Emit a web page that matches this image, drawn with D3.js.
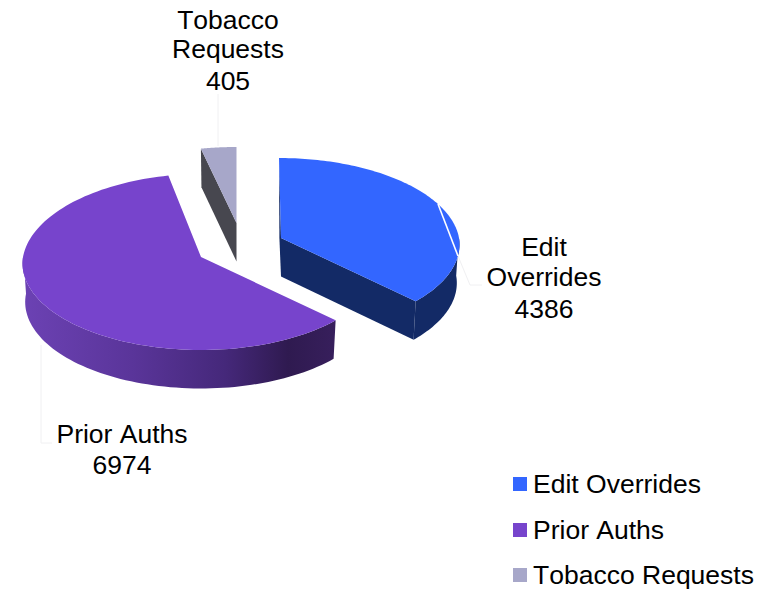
<!DOCTYPE html>
<html><head><meta charset="utf-8">
<script src="https://cdn.jsdelivr.net/npm/d3@7"></script>
<style>html,body{margin:0;padding:0;background:#fff}svg{display:block}text{font-family:"Liberation Sans",Arial,sans-serif;fill:#000;font-kerning:none}</style>
</head><body><div id="c"></div>
<script>
const categories = ["Edit Overrides", "Prior Auths", "Tobacco Requests"];
const values = [4386, 6974, 405];
const topColors = ["#3366ff", "#7744cc", "#a7a7c9"];
const sideColors = ["#132a66", "url(#sideGrad)", "#47474f"];
const labelLines = [["Edit", "Overrides", "4386"], ["Prior Auths", "6974"], ["Tobacco", "Requests", "405"]];

// layout of each exploded slice (not data)
const W = 773, H = 589;
const sliceLayout = [
  {cx: 281, cy: 238, backScale: 1, lean: -2},
  {cx: 201, cy: 257, backScale: 1.04, lean: 3},
  {cx: 236.5, cy: 223, backScale: 0.95, lean: 0}
];
const RX = 178, RY = 86, K = 0.075, DEPTH = 38.5, BOTTOM_X = 0.985;
const FONT = 26.5;
const labelLayout = [
  {x: 544, y: [256, 286, 318]},
  {x: 122, y: [443, 474]},
  {x: 228, y: [29, 58, 90]}
];
const leaders = [
  [[458, 256], [470, 285], [482, 285]],
  [[41, 345], [41, 443], [52, 443]],
  [[218, 146], [218, 94]]
];
const legendY = [484, 530, 575];

const svg = d3.select("#c").append("svg").attr("width", W).attr("height", H);
const grad = svg.append("defs").append("linearGradient").attr("id", "sideGrad")
  .attr("gradientUnits", "userSpaceOnUse").attr("x1", 22).attr("x2", 335).attr("y1", 0).attr("y2", 0);
[[0, "#6c42b4"], [0.35, "#5a359a"], [0.65, "#45287a"], [0.85, "#2f1a50"], [1, "#371f5c"]].forEach(s =>
  grad.append("stop").attr("offset", s[0]).attr("stop-color", s[1]));

const arcs = d3.pie().sort(null).value(d => d).startAngle(0).endAngle(2 * Math.PI)(values);

function project(a, L) {
  const c = Math.cos(a), f = 1 / (1 + K * c);
  return [
    L.cx + RX * Math.sin(a) * f + L.lean * Math.max(0, c),
    L.cy - RY * (c > 0 ? L.backScale : 1) * c * f
  ];
}
const down = (p, L) => [L.cx + (p[0] - L.cx) * BOTTOM_X, p[1] + DEPTH];
const sample = (a0, a1, L) => d3.range(0, 121).map(i => project(a0 + (a1 - a0) * i / 120, L));
const line = d3.line();

// faint leader lines
svg.append("g").selectAll("path").data(leaders).join("path")
  .attr("d", d => line(d)).attr("fill", "none").attr("stroke", "#f0f0f2").attr("stroke-width", 1);

// draw order: back slice first
[2, 1, 0].forEach(i => {
  const d = arcs[i], L = sliceLayout[i];
  const g = svg.append("g");
  const apex = [L.cx, L.cy];
  const a0 = d.startAngle, a1 = d.endAngle;
  const pts = sample(a0, a1, L);

  // outer wall: only the front-facing part of the rim
  const rim = pts.filter((p, j) => {
    const a = a0 + (a1 - a0) * j / 120;
    return a > Math.PI / 2 - 0.01 && a < 3 * Math.PI / 2 + 0.05;
  });
  if (rim.length > 1) {
    g.append("path").attr("d", line(rim.concat(rim.slice().reverse().map(p => down(p, L)))) + "Z")
      .attr("fill", sideColors[i]);
  }
  // cut walls
  if (i === 0) {
    const e = pts[pts.length - 1];
    g.append("path").attr("d", line([apex, e, down(e, L), down(apex, L)]) + "Z").attr("fill", sideColors[i]);
    g.append("path").attr("d", line([pts[0], apex, down(apex, L), [apex[0] - 1.6, apex[1]]]) + "Z").attr("fill", sideColors[i]);
  }
  if (i === 2) {
    const s = pts[0];
    g.append("path").attr("d", line([s, apex, down(apex, L), down(s, L)]) + "Z").attr("fill", sideColors[i]);
  }
  // top face
  g.append("path").attr("d", line([apex].concat(pts)) + "Z").attr("fill", topColors[i]);

  if (i === 0) {
    // white highlight cutting the rim
    g.append("line").attr("x1", 438).attr("y1", 204).attr("x2", 458).attr("y2", 256)
      .attr("stroke", "#fff").attr("stroke-width", 1.6);
  }
});

// data labels
labelLines.forEach((lines, i) => {
  svg.append("g").selectAll("text").data(lines).join("text")
    .attr("x", labelLayout[i].x).attr("y", (_, j) => labelLayout[i].y[j])
    .attr("text-anchor", "middle").attr("font-size", FONT).text(t => t);
});

// legend
const lg = svg.append("g").selectAll("g").data(categories).join("g")
  .attr("transform", (_, i) => `translate(513,${legendY[i]})`);
lg.append("rect").attr("x", 0).attr("y", -7).attr("width", 14).attr("height", 14).attr("fill", (_, i) => topColors[i]);
lg.append("text").attr("x", 20).attr("y", 8.5).attr("font-size", FONT).text(d => d);
</script></body></html>
